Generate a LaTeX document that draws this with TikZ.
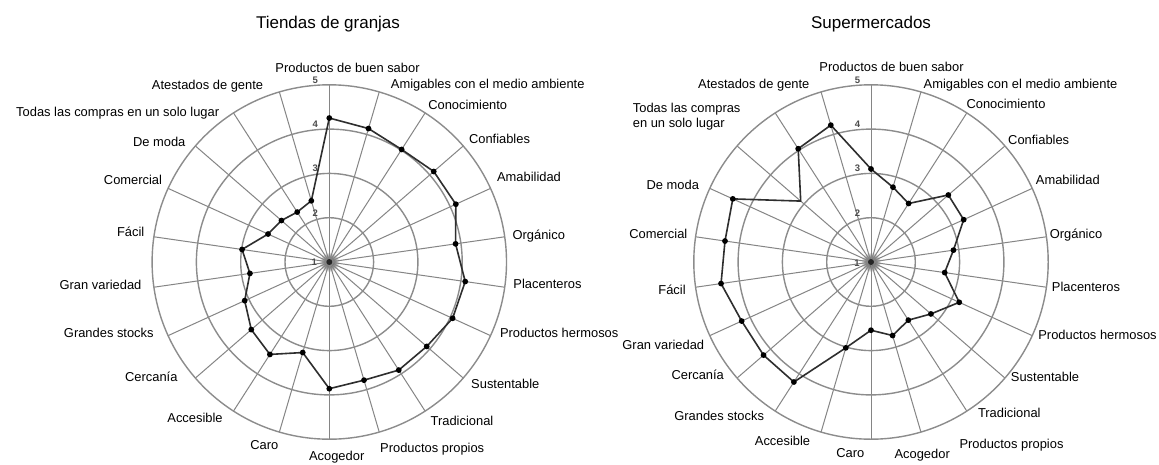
\documentclass[tikz,border=0pt]{standalone}
\usepackage{fontspec}
\setmainfont{Liberation Sans}
\begin{document}
\begin{tikzpicture}[x=1pt,y=-1pt,
  gridc/.style={draw=black!45, line width=1.4pt},
  spoke/.style={draw=black!48, line width=1pt},
  dataline/.style={draw=black!82, line width=1.6pt, line join=round},
  dot/.style={circle, fill=black, inner sep=0pt, minimum size=5.8pt},
  lab/.style={font=\fontsize{12.9}{15}\selectfont, anchor=base, inner sep=0pt},
  labw/.style={font=\fontsize{12.9}{15}\selectfont, anchor=base west, inner sep=0pt},
  ttl/.style={font=\fontsize{17}{20}\selectfont, anchor=base, inner sep=0pt},
  num/.style={font=\fontsize{9.5}{10}\selectfont\bfseries, text=black!70, inner sep=0pt}]
\fill[white] (0,0) rectangle (1159,464);
\useasboundingbox (0,0) rectangle (1159,464);

% ---------- left chart ----------
\begin{scope}[shift={(329.3,262)}]
  \coordinate (LC) at (0,0);
  \shade[inner color=black, outer color=white] (LC) circle[radius=10];
  \foreach \i in {0,...,21} \draw[spoke] (LC) -- ({-90+\i*360/22}:177.2);
  \foreach \k in {2,...,5} \draw[gridc] (LC) circle[radius={(\k-1)*44.3}];
  \fill[black!85] (LC) circle[radius=3];
  \foreach \v [count=\j from 0] in {4.25,4.14,4.02,4.12,4.14,3.88,4.10,4.06,3.91,3.90,3.78,3.86,3.13,3.48,3.33,3.10,2.81,2.99,2.52,2.43,2.34,2.44}
    \coordinate (L\j) at ({-90+\j*360/22}:{(\v-1)*44.3});
  \draw[dataline] (L0) \foreach \j in {1,...,21}{-- (L\j)} -- cycle;
  \foreach \j in {0,...,21} \node[dot] (dL\j) at (L\j) {};
  \foreach \k in {2,...,5} \node[num] (nL\k) at (-14,{-(\k-1)*44.3-5}) {\k};
  \node[num] (nL1) at (-15,0.5) {1};
\end{scope}

% ---------- right chart ----------
\begin{scope}[shift={(871,262)}]
  \coordinate (RC) at (0,0);
  \shade[inner color=black, outer color=white] (RC) circle[radius=10];
  \foreach \i in {0,...,21} \draw[spoke] (RC) -- ({-90+\i*360/22}:177.2);
  \foreach \k in {2,...,5} \draw[gridc] (RC) circle[radius={(\k-1)*44.3}];
  \fill[black!85] (RC) circle[radius=3];
  \foreach \v [count=\j from 0] in {3.10,2.76,2.57,3.31,3.30,2.88,2.68,3.19,2.79,2.56,2.73,2.54,3.02,4.22,4.21,4.21,4.42,4.33,4.43,3.10,4.04,4.22}
    \coordinate (R\j) at ({-90+\j*360/22}:{(\v-1)*44.3});
  \draw[dataline] (R0) \foreach \j in {1,...,21}{-- (R\j)} -- cycle;
  \foreach \j in {0,...,18,20,21} \node[dot] (dR\j) at (R\j) {};
  \foreach \k in {2,...,5} \node[num] (nR\k) at (-13.5,{-(\k-1)*44.3-5}) {\k};
  \node[num] (nR1) at (-14,1) {1};
\end{scope}

% ---------- titles ----------
\node[ttl] (t1) at (328,28) {Tiendas de granjas};
\node[ttl] (t2) at (871,28) {Supermercados};

% ---------- left labels ----------
\node[lab] (a0) at (347.5,72.3) {Productos de buen sabor};
\node[lab] (a1) at (487.7,88.8) {Amigables con el medio ambiente};
\node[lab] (a2) at (467.7,109.8) {Conocimiento};
\node[lab] (a3) at (499.5,143.1) {Confiables};
\node[lab] (a4) at (529,181.5) {Amabilidad};
\node[lab] (a5) at (538.8,239.1) {Orgánico};
\node[lab] (a6) at (547.5,288.1) {Placenteros};
\node[lab] (a7) at (559.2,337.1) {Productos hermosos};
\node[lab] (a8) at (505.3,388.1) {Sustentable};
\node[lab] (a9) at (462,425.5) {Tradicional};
\node[lab] (a10) at (432.2,452.5) {Productos propios};
\node[lab] (a11) at (336.7,460.5) {Acogedor};
\node[lab] (a12) at (264.3,449.1) {Caro};
\node[lab] (a13) at (195,422.5) {Accesible};
\node[lab] (a14) at (151.3,381.5) {Cercanía};
\node[lab] (a15) at (108.8,337.5) {Grandes stocks};
\node[lab] (a16) at (100.5,289.8) {Gran variedad};
\node[lab] (a17) at (130.7,236.5) {Fácil};
\node[lab] (a18) at (133,184.1) {Comercial};
\node[lab] (a19) at (159.2,146.5) {De moda};
\node[lab] (a20) at (117.7,116.5) {Todas las compras en un solo lugar};
\node[lab] (a21) at (207.5,89.8) {Atestados de gente};

% ---------- right labels ----------
\node[lab] (b0) at (891.5,71.3) {Productos de buen sabor};
\node[lab] (b1) at (1020.5,88.8) {Amigables con el medio ambiente};
\node[lab] (b2) at (1006,108.1) {Conocimiento};
\node[lab] (b3) at (1038.7,144.8) {Confiables};
\node[lab] (b4) at (1067.8,184.8) {Amabilidad};
\node[lab] (b5) at (1076,238.8) {Orgánico};
\node[lab] (b6) at (1086,291.5) {Placenteros};
\node[lab] (b7) at (1097.5,339.8) {Productos hermosos};
\node[lab] (b8) at (1045,381.5) {Sustentable};
\node[lab] (b9) at (1009.3,417.1) {Tradicional};
\node[lab] (b10) at (1011.5,448.1) {Productos propios};
\node[lab] (b11) at (922.2,458.1) {Acogedor};
\node[lab] (b12) at (850.3,457.5) {Caro};
\node[lab] (b13) at (782.5,445.5) {Accesible};
\node[lab] (b14) at (697.7,379.8) {Cercanía};
\node[lab] (b15) at (719.2,420.5) {Grandes stocks};
\node[lab] (b16) at (663.3,349.8) {Gran variedad};
\node[lab] (b17) at (672,294.8) {Fácil};
\node[lab] (b18) at (658.3,238.8) {Comercial};
\node[lab] (b19) at (672.8,189.8) {De moda};
\node[labw] (b20a) at (632.7,112.1) {Todas las compras};
\node[labw] (b20b) at (632.7,127.5) {en un solo lugar};
\node[lab] (b21) at (753.8,88.8) {Atestados de gente};
\end{tikzpicture}
\end{document}
